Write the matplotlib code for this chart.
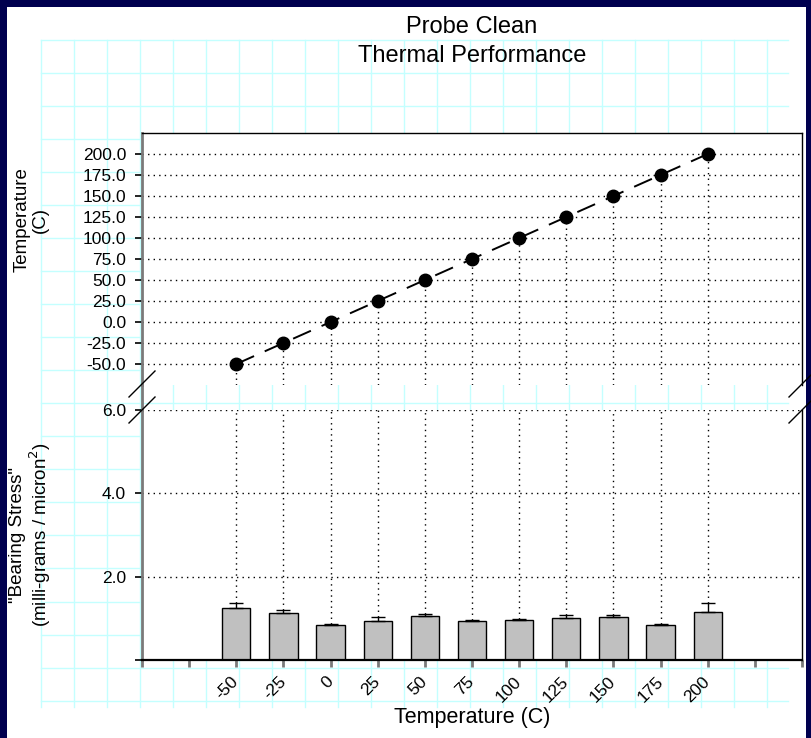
import matplotlib
matplotlib.use("Agg")
import matplotlib.pyplot as plt
from matplotlib.lines import Line2D
from matplotlib.patches import Rectangle

plt.rcParams['font.family'] = ['Liberation Sans', 'DejaVu Sans']

# data
temps = [-50, -25, 0, 25, 50, 75, 100, 125, 150, 175, 200]
measured = [-50, -25, 0, 25, 50, 75, 100, 125, 150, 175, 200]
stress = [1.26, 1.14, 0.84, 0.93, 1.05, 0.93, 0.95, 1.02, 1.03, 0.83, 1.15]
stress_err = [0.12, 0.05, 0.03, 0.10, 0.05, 0.02, 0.04, 0.06, 0.05, 0.04, 0.22]
top_ticks = [-50, -25, 0, 25, 50, 75, 100, 125, 150, 175, 200]
bot_ticks = [0, 2, 4, 6]
bot_ticklabels = ['', '2.0', '4.0', '6.0']
x_ticks = list(range(-100, 251, 25))
x_ticklabels = [str(t) if -50 <= t <= 200 else '' for t in x_ticks]

W, H = 812, 738
NAVY = '#00004f'
CYAN = '#c4ffff'


def fx(px):
    return px / W


def fy(py):
    return 1 - py / H


fig = plt.figure(figsize=(W / 100, H / 100), dpi=100)
fig.patch.set_facecolor(NAVY)
fig.add_artist(Rectangle((fx(7), 0), fx(806) - fx(7), fy(7), transform=fig.transFigure,
                         facecolor='white', edgecolor='none', zorder=-10))

# graph-paper background
for k in range(23):
    x = 41.3 + 33.0 * k
    fig.add_artist(Line2D([fx(x), fx(x)], [fy(40), fy(707)], transform=fig.transFigure,
                          color=CYAN, lw=1, zorder=-5))
for k in range(21):
    y = 40 + 33.03 * k
    fig.add_artist(Line2D([fx(41.3), fx(788)], [fy(y), fy(y)], transform=fig.transFigure,
                          color=CYAN, lw=1, zorder=-5))

L, R = 142, 802
ax1 = fig.add_axes([fx(L), fy(385), (R - L) / W, (385 - 133) / H])
ax2 = fig.add_axes([fx(L), fy(660), (R - L) / W, (660 - 410) / H])

dot = (0, (1, 3))

# ---- top panel
ax1.set_xlim(-100, 250)
ax1.set_ylim(-75, 225)
for t in top_ticks:
    ax1.axhline(t, color='black', lw=1, ls=dot, zorder=1)
ax1.vlines(temps, -75, measured, color='black', lw=1, ls=dot, zorder=1)
ax1.plot(temps, measured, color='black', lw=1.4, ls=(0, (10, 6)), marker='o', ms=9,
         mfc='black', mec='black', zorder=3)
ax1.set_yticks(top_ticks)
ax1.set_yticklabels([f'{t:.1f}' for t in top_ticks])
ax1.set_xticks([])
ax1.spines['bottom'].set_visible(False)
ax1.spines['left'].set_color('#7a7a7a')
ax1.spines['left'].set_linewidth(2)
ax1.spines['top'].set_linewidth(1)
ax1.spines['right'].set_linewidth(1)
ax1.tick_params(axis='y', direction='out', length=5, width=1.2, pad=6.5,
                labelsize=12.5, color='black')

# ---- bottom panel
ax2.set_xlim(-100, 250)
ax2.set_ylim(0, 6)
for t in bot_ticks[1:]:
    ax2.axhline(t, color='black', lw=1, ls=dot, zorder=1)
tops = [s + e for s, e in zip(stress, stress_err)]
ax2.vlines(temps, tops, 6, color='black', lw=1, ls=dot, zorder=1)
ax2.bar(temps, stress, width=15, color='#c0c0c0', edgecolor='black', lw=1, zorder=2)
ax2.errorbar(temps, stress, yerr=[[0] * len(stress_err), stress_err], fmt='none',
             ecolor='black', elinewidth=1, capsize=5, capthick=1, zorder=3)
ax2.set_yticks(bot_ticks)
ax2.set_yticklabels(bot_ticklabels)
ax2.set_xticks(x_ticks)
ax2.set_xticklabels(x_ticklabels, rotation=45, ha='right', va='center',
                    rotation_mode='anchor')
ax2.spines['top'].set_visible(False)
ax2.spines['left'].set_color('#7a7a7a')
ax2.spines['left'].set_linewidth(2)
ax2.spines['left'].set_bounds(0, 6)
ax2.spines['bottom'].set_linewidth(1.6)
ax2.spines['right'].set_linewidth(1)
ax2.tick_params(axis='y', direction='out', length=5, width=1.2, pad=6.5,
                labelsize=12.5, color='black')
ax2.tick_params(axis='x', direction='out', length=5, width=2, pad=9,
                labelsize=12.5, color='#7a7a7a')

# continuous left spine through the break
fig.add_artist(Line2D([fx(L), fx(L)], [fy(385), fy(410)], transform=fig.transFigure,
                      color='#7a7a7a', lw=2))
# break marks
for px in (L, R):
    for py in (384, 410):
        fig.add_artist(Line2D([fx(px - 13), fx(px + 13)], [fy(py + 13), fy(py - 13)],
                              transform=fig.transFigure, color='black', lw=1))

# text
fig.text(fx(472), fy(33), 'Probe Clean', ha='center', va='baseline', fontsize=17)
fig.text(fx(472), fy(62), 'Thermal Performance', ha='center', va='baseline', fontsize=17)
fig.text(fx(472), fy(718), 'Temperature (C)', ha='center', va='center', fontsize=15.5)
fig.text(fx(31), fy(220), 'Temperature\n(C)', ha='center', va='center', rotation=90,
         fontsize=13.5, linespacing=1.1)
fig.text(fx(31), fy(535), '"Bearing Stress"\n(milli-grams / micron$^2$)', ha='center',
         va='center', rotation=90, fontsize=13.5, linespacing=1.1)

fig.savefig('out.png', dpi=100, facecolor=fig.get_facecolor())
